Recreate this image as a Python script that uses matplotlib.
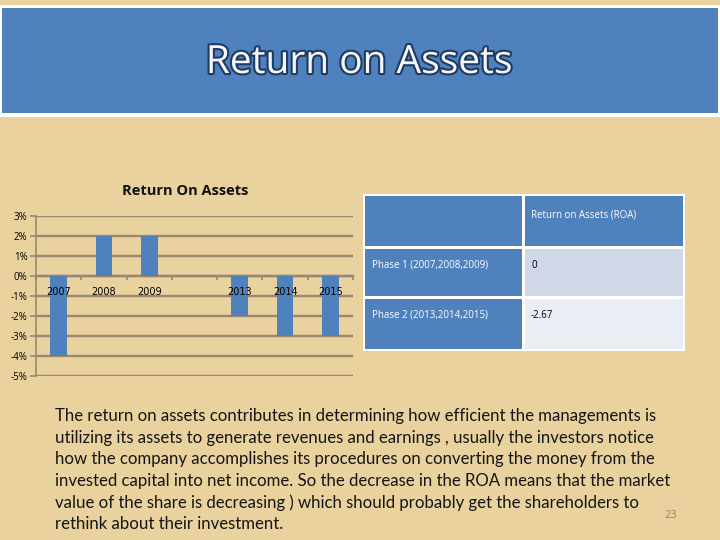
import numpy as np
import matplotlib
matplotlib.use("Agg")
import matplotlib.pyplot as plt
from matplotlib.patches import Rectangle
import matplotlib.patheffects as pe

# ---- data ----
categories = ["2007", "2008", "2009", "", "2013", "2014", "2015"]
roa_values = [-4, 2, 2, np.nan, -2, -3, -3]
y_ticks = [-5, -4, -3, -2, -1, 0, 1, 2, 3]
y_tick_labels = ["-5%", "-4%", "-3%", "-2%", "-1%", "0%", "1%", "2%", "3%"]

table_header = ["", "Return on Assets (ROA)"]
table_phases = ["Phase 1 (2007,2008,2009)", "Phase 2 (2013,2014,2015)"]
table_roa = ["0", "-2.67"]

slide_title = "Return on Assets"
chart_title = "Return On Assets"
body_lines = [
    "The return on assets contributes in determining how efficient the managements is",
    "utilizing its assets to generate revenues and earnings , usually the investors notice",
    "how the company accomplishes its procedures on converting the money from the",
    "invested capital into net income. So the decrease in the ROA means that the market",
    "value of the share is decreasing ) which should probably get the shareholders to",
    "rethink about their investment.",
]
page_number = "23"

BLUE = "#4f81bd"
BG = "#e9d29e"
GRID = "#978872"
FONT = ["Open Sans", "DejaVu Sans"]
BODY_FONT = ["Lato", "Open Sans", "DejaVu Sans"]

W, H = 720, 540
fig = plt.figure(figsize=(7.2, 5.4), dpi=100, facecolor=BG)

# full-figure overlay in pixel coordinates
bg = fig.add_axes([0, 0, 1, 1], zorder=0)
bg.set_xlim(0, W)
bg.set_ylim(H, 0)
bg.axis("off")
bg.set_facecolor("none")

# banner
bg.add_patch(Rectangle((0, 5), 720, 112, facecolor="white", edgecolor="none"))
bg.add_patch(Rectangle((2, 8), 716, 105, facecolor=BLUE, edgecolor="none"))
bg.text(359, 63, slide_title, ha="center", va="center", fontsize=28,
        color="#f4f8fc", family=FONT,
        path_effects=[pe.withStroke(linewidth=3, foreground="#1f3b63")])

# chart title
bg.text(185, 191, chart_title, ha="center", va="center", fontsize=10.5,
        fontweight="bold", color="#111111", family=FONT)

# table
tx0, tx1, tsplit = 365, 683, 523
ty = [196, 247, 297, 349]
bg.add_patch(Rectangle((tx0 - 2, ty[0] - 2), tx1 - tx0 + 4, ty[3] - ty[0] + 4,
                       facecolor="white", edgecolor="none"))
cell_colors = [[BLUE, BLUE], [BLUE, "#d0d8e8"], [BLUE, "#e9edf4"]]
for r in range(3):
    for c in range(2):
        x0 = tx0 if c == 0 else tsplit + 1.5
        x1 = tsplit - 1.5 if c == 0 else tx1
        y0 = ty[r] + (0 if r == 0 else 1.5)
        y1 = ty[r + 1] - (0 if r == 2 else 1.5)
        bg.add_patch(Rectangle((x0, y0), x1 - x0, y1 - y0,
                               facecolor=cell_colors[r][c], edgecolor="none"))
bg.text(531, 215, table_header[1], ha="left", va="center", fontsize=7,
        color="white", family=FONT)
for i, (ph, val) in enumerate(zip(table_phases, table_roa)):
    yc = 265 + 50 * i
    bg.text(372, yc, ph, ha="left", va="center", fontsize=7, color="white",
            family=FONT)
    bg.text(531, yc, val, ha="left", va="center", fontsize=7, color="black",
            family=FONT)

# body text, sized so the first line is about 600 px wide
body_texts = []
for i, line in enumerate(body_lines):
    t = bg.text(55, 416 + 21.6 * i, line, ha="left", va="center", fontsize=12,
                color="#151515", family=BODY_FONT)
    body_texts.append(t)
renderer = fig.canvas.get_renderer()
w0 = body_texts[0].get_window_extent(renderer).width
fs = 12 * 600.0 / w0
for t in body_texts:
    t.set_fontsize(fs)
bg.text(671, 515, page_number, ha="center", va="center", fontsize=8,
        color="#8c8870", family=FONT)

# ---- bar chart ----
ax = fig.add_axes([36 / W, 1 - 376 / H, (353 - 36) / W, 160 / H], zorder=2)
ax.set_facecolor("none")
x = np.arange(len(categories))
ax.bar(x, roa_values, width=0.37, color=BLUE, zorder=3)
ax.set_xlim(-0.5, len(categories) - 0.5)
ax.set_ylim(-5, 3)
ax.set_yticks(y_ticks)
ax.set_yticklabels(y_tick_labels)
ax.yaxis.grid(True, color=GRID, linewidth=1.7, zorder=1)
ax.set_axisbelow(True)
ax.set_xticks(x)
ax.set_xticklabels(categories)
ax.set_xticks(np.arange(len(categories) + 1) - 0.5, minor=True)
ax.tick_params(axis="x", which="major", length=0, pad=8, labelsize=7)
ax.tick_params(axis="x", which="minor", length=3, width=1.2, color=GRID,
               direction="out")
ax.tick_params(axis="y", length=4, width=1.2, color=GRID, pad=2, labelsize=7)
for lbl in ax.get_xticklabels() + ax.get_yticklabels():
    lbl.set_family(FONT)
for s in ["top", "right"]:
    ax.spines[s].set_visible(False)
ax.spines["bottom"].set_position(("data", 0))
ax.spines["bottom"].set_color(GRID)
ax.spines["bottom"].set_linewidth(1.7)
ax.spines["left"].set_color(GRID)
ax.spines["left"].set_linewidth(1.2)
ax.xaxis.set_zorder(4)

fig.savefig("out.png", dpi=100, facecolor=BG)
